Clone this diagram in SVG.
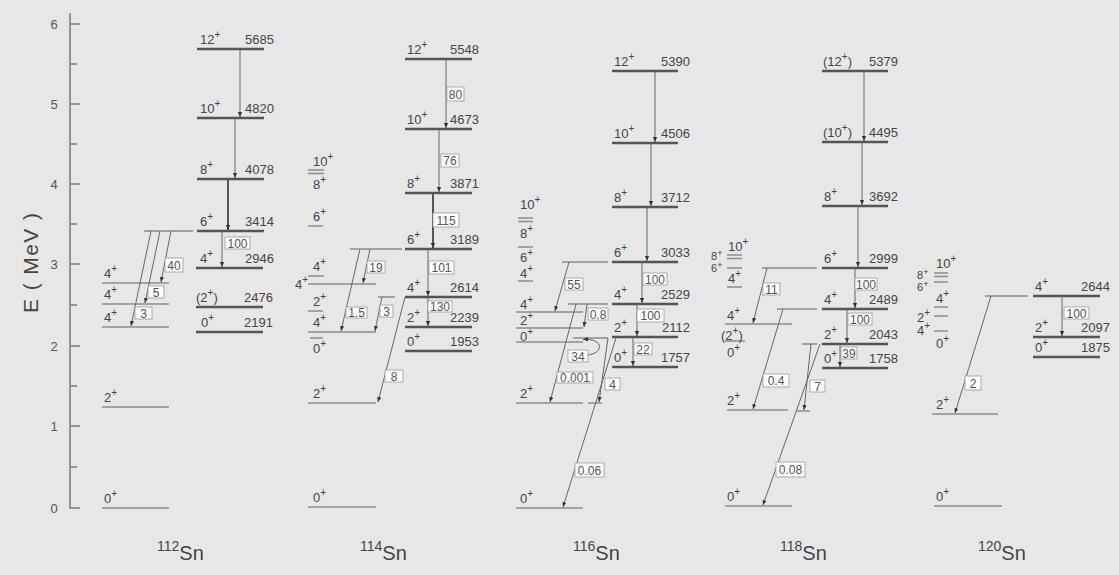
<svg xmlns="http://www.w3.org/2000/svg" width="1119" height="575" viewBox="0 0 1119 575">
<style>
text{font-family:"Liberation Sans",Arial,sans-serif;fill:#454545}
.sp{font-size:13px}
.su{font-size:10px}
.sm{font-size:11px}
.sms{font-size:9px}
.en{font-size:13px;text-anchor:end}
.tk{font-size:13px;text-anchor:middle;fill:#555}
.bl{font-size:12px;text-anchor:middle;fill:#555}
.lv{stroke:#555;stroke-width:2.5}
.ls{stroke:#8c8c8c;stroke-width:1.5}
.ax{stroke:#7a7a7a;stroke-width:1.5;fill:none}
.tr{stroke:#666;stroke-width:1;marker-end:url(#ah);fill:none}
.tb{stroke:#555;stroke-width:2;marker-end:url(#ah)}
.bx{fill:#fff;stroke:#999;stroke-width:0.8}
.iso{font-size:20px}
.isn{font-size:14px}
</style>
<defs>
<marker id="ah" viewBox="0 0 6 6" refX="6" refY="3" markerWidth="5" markerHeight="5" orient="auto" markerUnits="userSpaceOnUse"><path d="M0,0.5 L6,3 L0,5.5z" fill="#333"/></marker>
</defs>
<rect width="1119" height="575" fill="#e7e7e7"/>

<g id="axis">
<path class="ax" d="M70,13V508H80M70,426H80M70,346H80M70,264H80M70,184H80M70,104H80M70,24H80M70,467H77M70,386H77M70,305H77M70,224H77M70,144H77M70,64H77"/>
<text class="tk" x="54" y="513">0</text>
<text class="tk" x="54" y="431">1</text>
<text class="tk" x="54" y="351">2</text>
<text class="tk" x="54" y="269">3</text>
<text class="tk" x="54" y="189">4</text>
<text class="tk" x="54" y="109">5</text>
<text class="tk" x="54" y="29">6</text>
<text transform="translate(38,263) rotate(-90)" font-size="21" text-anchor="middle" textLength="100" lengthAdjust="spacing">E ( MeV )</text>
</g>

<g id="nodes">
<!-- 112Sn -->
<g id="sn112">
<g id="sn112-g0"><line class="ls" x1="102" y1="508" x2="169" y2="508"/><text class="sp" x="104" y="503">0<tspan class="su" dy="-6">+</tspan></text></g>
<g id="sn112-g2"><line class="ls" x1="102" y1="407" x2="169" y2="407"/><text class="sp" x="104" y="402">2<tspan class="su" dy="-6">+</tspan></text></g>
<g id="sn112-4a"><line class="ls" x1="102" y1="327" x2="169" y2="327"/><text class="sp" x="104" y="322">4<tspan class="su" dy="-6">+</tspan></text></g>
<g id="sn112-4b"><line class="ls" x1="102" y1="304" x2="169" y2="304"/><text class="sp" x="104" y="299">4<tspan class="su" dy="-6">+</tspan></text></g>
<g id="sn112-4c"><line class="ls" x1="102" y1="283" x2="169" y2="283"/><text class="sp" x="104" y="278">4<tspan class="su" dy="-6">+</tspan></text></g>
<g id="sn112-6s"><line class="ls" x1="144" y1="231" x2="193" y2="231"/></g>
<g id="sn112-12"><line class="lv" x1="197" y1="49" x2="264" y2="49"/><text class="sp" x="200" y="44">12<tspan class="su" dy="-6">+</tspan></text><text class="en" x="274" y="44">5685</text></g>
<g id="sn112-10"><line class="lv" x1="197" y1="118" x2="264" y2="118"/><text class="sp" x="200" y="113">10<tspan class="su" dy="-6">+</tspan></text><text class="en" x="274" y="113">4820</text></g>
<g id="sn112-8"><line class="lv" x1="197" y1="179" x2="264" y2="179"/><text class="sp" x="200" y="174">8<tspan class="su" dy="-6">+</tspan></text><text class="en" x="274" y="174">4078</text></g>
<g id="sn112-6"><line class="lv" x1="197" y1="231" x2="264" y2="231"/><text class="sp" x="200" y="226">6<tspan class="su" dy="-6">+</tspan></text><text class="en" x="274" y="226">3414</text></g>
<g id="sn112-4"><line class="lv" x1="196" y1="268" x2="263" y2="268"/><text class="sp" x="200" y="263">4<tspan class="su" dy="-6">+</tspan></text><text class="en" x="274" y="263">2946</text></g>
<g id="sn112-2"><line class="lv" x1="196" y1="307" x2="263" y2="307"/><text class="sp" x="196" y="302">(2<tspan class="su" dy="-6">+</tspan><tspan dy="6">)</tspan></text><text class="en" x="273" y="302">2476</text></g>
<g id="sn112-0"><line class="lv" x1="196" y1="332" x2="263" y2="332"/><text class="sp" x="201" y="327">0<tspan class="su" dy="-6">+</tspan></text><text class="en" x="273" y="327">2191</text></g>
<text x="157" y="551"><tspan class="isn">112</tspan><tspan class="iso" dy="9">Sn</tspan></text>
</g>

<!-- 114Sn -->
<g id="sn114">
<g id="sn114-g0"><line class="ls" x1="308" y1="507" x2="376" y2="507"/><text class="sp" x="313" y="502">0<tspan class="su" dy="-6">+</tspan></text></g>
<g id="sn114-g2"><line class="ls" x1="308" y1="403" x2="376" y2="403"/><text class="sp" x="313" y="398">2<tspan class="su" dy="-6">+</tspan></text></g>
<g id="sn114-0b"><line class="ls" x1="310" y1="338" x2="323" y2="338"/><text class="sp" x="313" y="353">0<tspan class="su" dy="-6">+</tspan></text></g>
<g id="sn114-4a"><line class="ls" x1="308" y1="332" x2="376" y2="332"/><text class="sp" x="313" y="327">4<tspan class="su" dy="-6">+</tspan></text></g>
<g id="sn114-2b"><line class="ls" x1="308" y1="311" x2="323" y2="311"/><text class="sp" x="313" y="306">2<tspan class="su" dy="-6">+</tspan></text></g>
<g id="sn114-4b"><line class="ls" x1="308" y1="284" x2="376" y2="284"/><text class="sp" x="295" y="289">4<tspan class="su" dy="-6">+</tspan></text></g>
<g id="sn114-4c"><line class="ls" x1="308" y1="276" x2="324" y2="276"/><text class="sp" x="313" y="271">4<tspan class="su" dy="-6">+</tspan></text></g>
<g id="sn114-6b"><line class="ls" x1="308" y1="226" x2="323" y2="226"/><text class="sp" x="313" y="221">6<tspan class="su" dy="-6">+</tspan></text></g>
<g id="sn114-810"><line class="ls" x1="308" y1="170" x2="324" y2="170"/><line class="ls" x1="308" y1="173.5" x2="324" y2="173.5"/><text class="sp" x="313" y="166">10<tspan class="su" dy="-6">+</tspan></text><text class="sp" x="313" y="189">8<tspan class="su" dy="-6">+</tspan></text></g>
<g id="sn114-6s"><line class="ls" x1="350" y1="249" x2="402" y2="249"/></g>
<g id="sn114-4s"><line class="ls" x1="378" y1="297" x2="395" y2="297"/></g>
<g id="sn114-12"><line class="lv" x1="405" y1="59" x2="472" y2="59"/><text class="sp" x="407" y="54">12<tspan class="su" dy="-6">+</tspan></text><text class="en" x="479" y="54">5548</text></g>
<g id="sn114-10"><line class="lv" x1="405" y1="129" x2="472" y2="129"/><text class="sp" x="407" y="124">10<tspan class="su" dy="-6">+</tspan></text><text class="en" x="479" y="124">4673</text></g>
<g id="sn114-8"><line class="lv" x1="405" y1="193" x2="472" y2="193"/><text class="sp" x="407" y="188">8<tspan class="su" dy="-6">+</tspan></text><text class="en" x="479" y="188">3871</text></g>
<g id="sn114-6"><line class="lv" x1="405" y1="249" x2="472" y2="249"/><text class="sp" x="407" y="244">6<tspan class="su" dy="-6">+</tspan></text><text class="en" x="479" y="244">3189</text></g>
<g id="sn114-4"><line class="lv" x1="405" y1="297" x2="472" y2="297"/><text class="sp" x="407" y="292">4<tspan class="su" dy="-6">+</tspan></text><text class="en" x="479" y="292">2614</text></g>
<g id="sn114-2"><line class="lv" x1="405" y1="327" x2="472" y2="327"/><text class="sp" x="407" y="322">2<tspan class="su" dy="-6">+</tspan></text><text class="en" x="479" y="322">2239</text></g>
<g id="sn114-0"><line class="lv" x1="405" y1="351" x2="472" y2="351"/><text class="sp" x="407" y="346">0<tspan class="su" dy="-6">+</tspan></text><text class="en" x="479" y="346">1953</text></g>
<text x="360" y="551"><tspan class="isn">114</tspan><tspan class="iso" dy="9">Sn</tspan></text>
</g>

<!-- 116Sn -->
<g id="sn116">
<g id="sn116-g0"><line class="ls" x1="516" y1="508" x2="583" y2="508"/><text class="sp" x="520" y="503">0<tspan class="su" dy="-6">+</tspan></text></g>
<g id="sn116-g2"><line class="ls" x1="516" y1="403" x2="583" y2="403"/><text class="sp" x="520" y="398">2<tspan class="su" dy="-6">+</tspan></text></g>
<g id="sn116-0b"><line class="ls" x1="516" y1="342" x2="583" y2="342"/><text class="sp" x="520" y="341">0<tspan class="su" dy="-6">+</tspan></text></g>
<g id="sn116-2b"><line class="ls" x1="516" y1="328" x2="583" y2="328"/><text class="sp" x="520" y="325">2<tspan class="su" dy="-6">+</tspan></text></g>
<g id="sn116-4b"><line class="ls" x1="516" y1="312" x2="583" y2="312"/><text class="sp" x="520" y="309">4<tspan class="su" dy="-6">+</tspan></text></g>
<g id="sn116-4c"><line class="ls" x1="518" y1="281" x2="533" y2="281"/><text class="sp" x="520" y="278">4<tspan class="su" dy="-6">+</tspan></text></g>
<g id="sn116-6b"><line class="ls" x1="518" y1="247" x2="533" y2="247"/><text class="sp" x="520" y="262">6<tspan class="su" dy="-6">+</tspan></text></g>
<g id="sn116-810"><line class="ls" x1="518" y1="218" x2="533" y2="218"/><line class="ls" x1="518" y1="221.5" x2="533" y2="221.5"/><text class="sp" x="520" y="209">10<tspan class="su" dy="-6">+</tspan></text><text class="sp" x="520" y="238">8<tspan class="su" dy="-6">+</tspan></text></g>
<g id="sn116-6s"><line class="ls" x1="562" y1="262" x2="608" y2="262"/></g>
<g id="sn116-4s"><line class="ls" x1="568" y1="304" x2="608" y2="304"/></g>
<g id="sn116-2s"><line class="ls" x1="573" y1="338" x2="608" y2="338"/></g>
<g id="sn116-g2s"><line class="ls" x1="588" y1="403" x2="602" y2="403"/></g>
<g id="sn116-12"><line class="lv" x1="612" y1="71" x2="678" y2="71"/><text class="sp" x="614" y="66">12<tspan class="su" dy="-6">+</tspan></text><text class="en" x="690" y="66">5390</text></g>
<g id="sn116-10"><line class="lv" x1="612" y1="143" x2="678" y2="143"/><text class="sp" x="614" y="138">10<tspan class="su" dy="-6">+</tspan></text><text class="en" x="690" y="138">4506</text></g>
<g id="sn116-8"><line class="lv" x1="612" y1="207" x2="678" y2="207"/><text class="sp" x="614" y="202">8<tspan class="su" dy="-6">+</tspan></text><text class="en" x="690" y="202">3712</text></g>
<g id="sn116-6"><line class="lv" x1="612" y1="262" x2="678" y2="262"/><text class="sp" x="614" y="257">6<tspan class="su" dy="-6">+</tspan></text><text class="en" x="690" y="257">3033</text></g>
<g id="sn116-4"><line class="lv" x1="612" y1="304" x2="678" y2="304"/><text class="sp" x="614" y="299">4<tspan class="su" dy="-6">+</tspan></text><text class="en" x="690" y="299">2529</text></g>
<g id="sn116-2"><line class="lv" x1="612" y1="337" x2="678" y2="337"/><text class="sp" x="614" y="332">2<tspan class="su" dy="-6">+</tspan></text><text class="en" x="690" y="332">2112</text></g>
<g id="sn116-0"><line class="lv" x1="612" y1="367" x2="678" y2="367"/><text class="sp" x="614" y="362">0<tspan class="su" dy="-6">+</tspan></text><text class="en" x="690" y="362">1757</text></g>
<text x="573" y="551"><tspan class="isn">116</tspan><tspan class="iso" dy="9">Sn</tspan></text>
</g>

<!-- 118Sn -->
<g id="sn118">
<g id="sn118-g0"><line class="ls" x1="725" y1="506" x2="792" y2="506"/><text class="sp" x="727" y="501">0<tspan class="su" dy="-6">+</tspan></text></g>
<g id="sn118-g2"><line class="ls" x1="727" y1="410" x2="788" y2="410"/><text class="sp" x="727" y="405">2<tspan class="su" dy="-6">+</tspan></text></g>
<g id="sn118-0b"><line class="ls" x1="725" y1="341" x2="745" y2="341"/><text class="sp" x="727" y="357">0<tspan class="su" dy="-6">+</tspan></text></g>
<g id="sn118-2b"><text class="sp" x="721" y="340">(2<tspan class="su" dy="-6">+</tspan><tspan dy="6">)</tspan></text></g>
<g id="sn118-4b"><line class="ls" x1="725" y1="324" x2="792" y2="324"/><text class="sp" x="727" y="320">4<tspan class="su" dy="-6">+</tspan></text></g>
<g id="sn118-4c"><line class="ls" x1="727" y1="287" x2="742" y2="287"/><text class="sp" x="728" y="283">4<tspan class="su" dy="-6">+</tspan></text></g>
<g id="sn118-6b"><line class="ls" x1="727" y1="268" x2="742" y2="268"/><text class="sm" x="711" y="272">6<tspan class="sms" dy="-4">+</tspan></text></g>
<g id="sn118-810"><line class="ls" x1="727" y1="255" x2="742" y2="255"/><line class="ls" x1="727" y1="258.5" x2="742" y2="258.5"/><text class="sp" x="728" y="251">10<tspan class="su" dy="-6">+</tspan></text><text class="sm" x="711" y="260">8<tspan class="sms" dy="-4">+</tspan></text></g>
<g id="sn118-6s"><line class="ls" x1="762" y1="268" x2="817" y2="268"/></g>
<g id="sn118-4s"><line class="ls" x1="777" y1="309" x2="817" y2="309"/></g>
<g id="sn118-2s"><line class="ls" x1="802" y1="344" x2="817" y2="344"/></g>
<g id="sn118-g2s"><line class="ls" x1="797" y1="411" x2="810" y2="411"/></g>
<g id="sn118-12"><line class="lv" x1="822" y1="71" x2="888" y2="71"/><text class="sp" x="823" y="66">(12<tspan class="su" dy="-6">+</tspan><tspan dy="6">)</tspan></text><text class="en" x="898" y="66">5379</text></g>
<g id="sn118-10"><line class="lv" x1="822" y1="142" x2="888" y2="142"/><text class="sp" x="823" y="137">(10<tspan class="su" dy="-6">+</tspan><tspan dy="6">)</tspan></text><text class="en" x="898" y="137">4495</text></g>
<g id="sn118-8"><line class="lv" x1="822" y1="206" x2="888" y2="206"/><text class="sp" x="824" y="201">8<tspan class="su" dy="-6">+</tspan></text><text class="en" x="898" y="201">3692</text></g>
<g id="sn118-6"><line class="lv" x1="822" y1="268" x2="888" y2="268"/><text class="sp" x="824" y="263">6<tspan class="su" dy="-6">+</tspan></text><text class="en" x="898" y="263">2999</text></g>
<g id="sn118-4"><line class="lv" x1="822" y1="309" x2="888" y2="309"/><text class="sp" x="824" y="304">4<tspan class="su" dy="-6">+</tspan></text><text class="en" x="898" y="304">2489</text></g>
<g id="sn118-2"><line class="lv" x1="822" y1="344" x2="888" y2="344"/><text class="sp" x="824" y="339">2<tspan class="su" dy="-6">+</tspan></text><text class="en" x="898" y="339">2043</text></g>
<g id="sn118-0"><line class="lv" x1="822" y1="368" x2="888" y2="368"/><text class="sp" x="824" y="363">0<tspan class="su" dy="-6">+</tspan></text><text class="en" x="898" y="363">1758</text></g>
<text x="780" y="551"><tspan class="isn">118</tspan><tspan class="iso" dy="9">Sn</tspan></text>
</g>

<!-- 120Sn -->
<g id="sn120">
<g id="sn120-g0"><line class="ls" x1="934" y1="506" x2="1002" y2="506"/><text class="sp" x="936" y="501">0<tspan class="su" dy="-6">+</tspan></text></g>
<g id="sn120-g2"><line class="ls" x1="932" y1="414" x2="998" y2="414"/><text class="sp" x="936" y="409">2<tspan class="su" dy="-6">+</tspan></text></g>
<g id="sn120-0b"><text class="sp" x="936" y="348">0<tspan class="su" dy="-6">+</tspan></text></g>
<g id="sn120-4b"><line class="ls" x1="934" y1="331" x2="948" y2="331"/><text class="sp" x="917" y="335">4<tspan class="su" dy="-6">+</tspan></text></g>
<g id="sn120-2b"><line class="ls" x1="934" y1="316" x2="948" y2="316"/><text class="sp" x="917" y="322">2<tspan class="su" dy="-6">+</tspan></text></g>
<g id="sn120-4c"><line class="ls" x1="934" y1="307" x2="948" y2="307"/><text class="sp" x="936" y="303">4<tspan class="su" dy="-6">+</tspan></text></g>
<g id="sn120-6b"><line class="ls" x1="934" y1="282" x2="948" y2="282"/><text class="sm" x="917" y="291">6<tspan class="sms" dy="-4">+</tspan></text></g>
<g id="sn120-810"><line class="ls" x1="934" y1="273" x2="948" y2="273"/><line class="ls" x1="934" y1="276.5" x2="948" y2="276.5"/><text class="sp" x="936" y="268">10<tspan class="su" dy="-6">+</tspan></text><text class="sm" x="917" y="279">8<tspan class="sms" dy="-4">+</tspan></text></g>
<g id="sn120-4s"><line class="ls" x1="985" y1="296" x2="1028" y2="296"/></g>
<g id="sn120-4"><line class="lv" x1="1033" y1="296" x2="1100" y2="296"/><text class="sp" x="1035" y="291">4<tspan class="su" dy="-6">+</tspan></text><text class="en" x="1110" y="291">2644</text></g>
<g id="sn120-2"><line class="lv" x1="1033" y1="337" x2="1100" y2="337"/><text class="sp" x="1035" y="332">2<tspan class="su" dy="-6">+</tspan></text><text class="en" x="1110" y="332">2097</text></g>
<g id="sn120-0"><line class="lv" x1="1033" y1="357" x2="1100" y2="357"/><text class="sp" x="1035" y="352">0<tspan class="su" dy="-6">+</tspan></text><text class="en" x="1110" y="352">1875</text></g>
<text x="978" y="551"><tspan class="isn">120</tspan><tspan class="iso" dy="9">Sn</tspan></text>
</g>
</g>

<g id="connectors">
<!-- 112 -->
<line class="tr" x1="240" y1="49" x2="240" y2="117"/>
<line class="tr" x1="235" y1="118" x2="235" y2="178"/>
<line class="tb" x1="228" y1="179" x2="228" y2="230"/>
<line class="tr" x1="222" y1="231" x2="222" y2="267"/>
<rect class="bx" x="225" y="237" width="25" height="12"/><text class="bl" x="237.5" y="247.5">100</text>
<line class="tr" x1="171" y1="231" x2="161" y2="282"/>
<rect class="bx" x="165" y="258" width="18" height="14"/><text class="bl" x="174" y="269.5">40</text>
<line class="tr" x1="160" y1="231" x2="145" y2="303"/>
<rect class="bx" x="148" y="286" width="16" height="12"/><text class="bl" x="156" y="296.5">5</text>
<line class="tr" x1="151" y1="231" x2="131" y2="326"/>
<rect class="bx" x="135" y="307" width="17" height="12"/><text class="bl" x="143.5" y="317.5">3</text>
<!-- 114 -->
<line class="tr" x1="446" y1="59" x2="446" y2="128"/>
<rect class="bx" x="447" y="87" width="17" height="14"/><text class="bl" x="455.5" y="98.5">80</text>
<line class="tr" x1="439" y1="129" x2="439" y2="192"/>
<rect class="bx" x="441" y="154" width="18" height="13"/><text class="bl" x="450" y="165">76</text>
<line class="tb" x1="433" y1="193" x2="433" y2="248"/>
<rect class="bx" x="433" y="213" width="26" height="14"/><text class="bl" x="446" y="224.5">115</text>
<line class="tr" x1="428" y1="249" x2="428" y2="296"/>
<rect class="bx" x="429" y="261" width="25" height="13"/><text class="bl" x="441.5" y="272">101</text>
<line class="tr" x1="428" y1="297" x2="428" y2="326"/>
<rect class="bx" x="428" y="301" width="24" height="11"/><text class="bl" x="440" y="311">130</text>
<line class="tr" x1="370" y1="249" x2="363" y2="283"/>
<rect class="bx" x="367" y="261" width="18" height="12"/><text class="bl" x="376" y="271.5">19</text>
<line class="tr" x1="360" y1="249" x2="341" y2="331"/>
<rect class="bx" x="346" y="307" width="21" height="11"/><text class="bl" x="356.5" y="317">1.5</text>
<line class="tr" x1="382" y1="297" x2="375" y2="331"/>
<rect class="bx" x="380" y="305" width="13" height="12"/><text class="bl" x="386.5" y="315.5">3</text>
<line class="tr" x1="405" y1="297" x2="378" y2="402"/>
<rect class="bx" x="385" y="370" width="18" height="12"/><text class="bl" x="394" y="380.5">8</text>
<!-- 116 -->
<line class="tr" x1="655" y1="71" x2="655" y2="142"/>
<line class="tr" x1="651" y1="143" x2="651" y2="206"/>
<line class="tr" x1="647" y1="207" x2="647" y2="261"/>
<line class="tr" x1="642" y1="262" x2="642" y2="303"/>
<rect class="bx" x="643" y="273" width="24" height="12"/><text class="bl" x="655" y="283.5">100</text>
<line class="tr" x1="637" y1="304" x2="637" y2="336"/>
<rect class="bx" x="637" y="309" width="27" height="13"/><text class="bl" x="650.5" y="320">100</text>
<line class="tr" x1="633" y1="337" x2="633" y2="366"/>
<rect class="bx" x="634" y="343" width="18" height="12"/><text class="bl" x="643" y="353.5">22</text>
<line class="tr" x1="569" y1="262" x2="555" y2="311"/>
<rect class="bx" x="565" y="278" width="18" height="12"/><text class="bl" x="574" y="288.5">55</text>
<line class="tr" x1="587" y1="304" x2="584" y2="327"/>
<rect class="bx" x="588" y="308" width="20" height="12"/><text class="bl" x="598" y="318.5">0.8</text>
<line class="tr" x1="576" y1="304" x2="550" y2="402"/>
<rect class="bx" x="557" y="372" width="36" height="11"/><text class="bl" x="575" y="382">0.001</text>
<path class="tr" d="M588,355 C604,353 604,338 583,339.5"/>
<rect class="bx" x="568" y="350" width="20" height="12"/><text class="bl" x="578" y="360.5">34</text>
<line class="tr" x1="608" y1="338" x2="599" y2="402"/>
<rect class="bx" x="605" y="378" width="15" height="12"/><text class="bl" x="612.5" y="388.5">4</text>
<line class="tr" x1="616" y1="338" x2="563" y2="507"/>
<rect class="bx" x="575" y="463" width="29" height="14"/><text class="bl" x="589.5" y="474.5">0.06</text>
<!-- 118 -->
<line class="tr" x1="864" y1="71" x2="864" y2="141"/>
<line class="tr" x1="862" y1="142" x2="862" y2="205"/>
<line class="tr" x1="858" y1="206" x2="858" y2="267"/>
<line class="tr" x1="855" y1="268" x2="855" y2="308"/>
<rect class="bx" x="855" y="278" width="22" height="12"/><text class="bl" x="866" y="288.5">100</text>
<line class="tr" x1="847" y1="309" x2="847" y2="343"/>
<rect class="bx" x="848" y="313" width="24" height="12"/><text class="bl" x="860" y="323.5">100</text>
<line class="tr" x1="840" y1="344" x2="840" y2="367"/>
<rect class="bx" x="841" y="347" width="16" height="12"/><text class="bl" x="849" y="357.5">39</text>
<line class="tr" x1="767" y1="268" x2="753" y2="323"/>
<rect class="bx" x="763" y="283" width="17" height="12"/><text class="bl" x="771.5" y="293.5">11</text>
<line class="tr" x1="783" y1="309" x2="753" y2="409"/>
<rect class="bx" x="763" y="374" width="26" height="13"/><text class="bl" x="776" y="385">0.4</text>
<line class="tr" x1="811" y1="344" x2="804" y2="410"/>
<rect class="bx" x="810" y="380" width="15" height="12"/><text class="bl" x="817.5" y="390.5">7</text>
<line class="tr" x1="820" y1="344" x2="763" y2="505"/>
<rect class="bx" x="776" y="462" width="29" height="15"/><text class="bl" x="790.5" y="474">0.08</text>
<!-- 120 -->
<line class="tr" x1="1062" y1="296" x2="1062" y2="336"/>
<rect class="bx" x="1064" y="307" width="25" height="12"/><text class="bl" x="1076.5" y="317.5">100</text>
<line class="tr" x1="991" y1="296" x2="955" y2="413"/>
<rect class="bx" x="965" y="376" width="16" height="14"/><text class="bl" x="973" y="387.5">2</text>
</g>
</svg>
